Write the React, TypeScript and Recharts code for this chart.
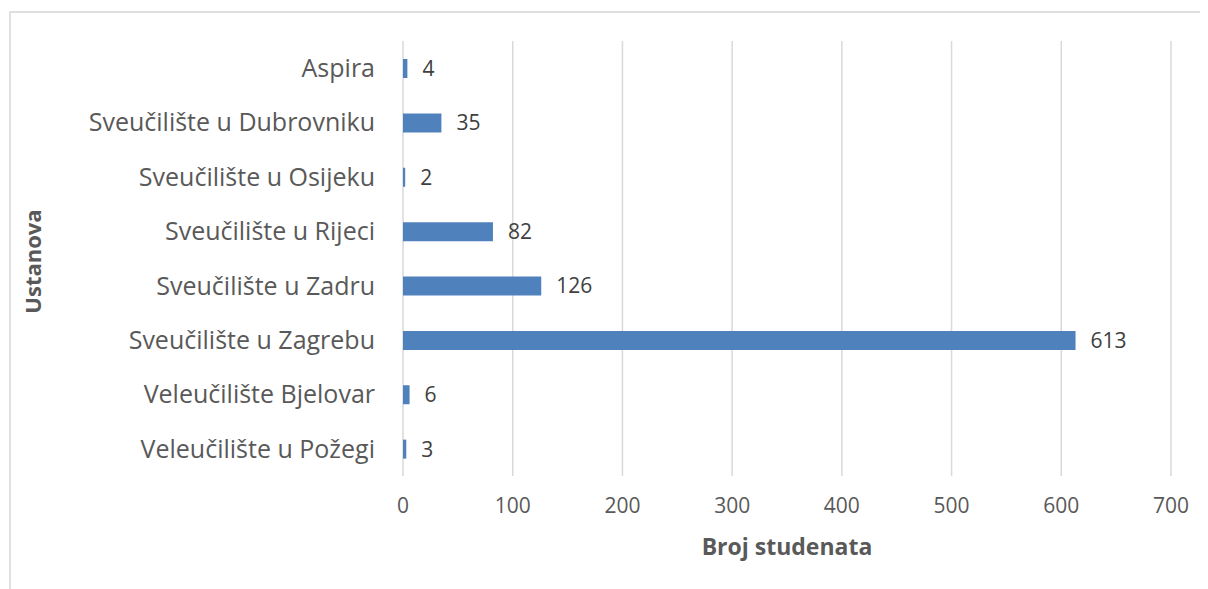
import React from 'react';
import { BarChart, Bar, XAxis, YAxis, CartesianGrid, LabelList, Label } from 'recharts';

// institutions, top to bottom as in the chart
const ustanove = [
  'Aspira',
  'Sveučilište u Dubrovniku',
  'Sveučilište u Osijeku',
  'Sveučilište u Rijeci',
  'Sveučilište u Zadru',
  'Sveučilište u Zagrebu',
  'Veleučilište Bjelovar',
  'Veleučilište u Požegi',
];
const brojStudenata = [4, 35, 2, 82, 126, 613, 6, 3];
const xTicks = [0, 100, 200, 300, 400, 500, 600, 700];

const data = ustanove.map((name, i) => ({ name, value: brojStudenata[i] }));

const FONT = '"Open Sans", sans-serif';
const TEXT = '#595959';

export default function App() {
  return (
    <div style={{ position: 'relative', width: 1200, height: 581, fontFamily: FONT }}>
      <div
        style={{
          position: 'absolute',
          left: 1,
          top: 3,
          right: 0,
          bottom: 0,
          borderTop: '2px solid #e0e0e0',
          borderLeft: '2px solid #e0e0e0',
        }}
      />
      <div style={{ position: 'absolute', left: 0, top: 0 }}>
        <BarChart
          width={1200}
          height={581}
          data={data}
          layout="vertical"
          margin={{ top: 33, right: 37, bottom: 33, left: 0 }}
          barSize={19}
        >
          <CartesianGrid horizontal={false} stroke="#d9d9d9" strokeWidth={1.5} />
          <XAxis
            type="number"
            domain={[0, 700]}
            ticks={xTicks}
            axisLine={false}
            tickLine={false}
            height={80}
            tickMargin={16}
            tick={{ fill: TEXT, fontSize: 21, fontFamily: FONT }}
          >
            <Label
              content={({ viewBox }: any) => (
                <text
                  x={viewBox.x + viewBox.width / 2}
                  y={viewBox.y + 79}
                  textAnchor="middle"
                  fill={TEXT}
                  fontSize={23}
                  fontWeight="bold"
                  fontFamily={FONT}
                >
                  Broj studenata
                </text>
              )}
            />
          </XAxis>
          <YAxis
            type="category"
            dataKey="name"
            width={395}
            axisLine={false}
            tickLine={false}
            tickMargin={22}
            interval={0}
            tick={{ fill: TEXT, fontSize: 25, fontFamily: FONT }}
          >
            <Label
              content={({ viewBox }: any) => (
                <text
                  x={viewBox.x + 33}
                  y={viewBox.y + viewBox.height / 2 + 3}
                  textAnchor="middle"
                  fill={TEXT}
                  fontSize={22}
                  fontWeight="bold"
                  fontFamily={FONT}
                  transform={`rotate(-90 ${viewBox.x + 33} ${viewBox.y + viewBox.height / 2 + 3})`}
                >
                  Ustanova
                </text>
              )}
            />
          </YAxis>
          <Bar dataKey="value" fill="#4f81bd" isAnimationActive={false}>
            <LabelList dataKey="value" position="right" offset={15} fill="#404040" fontSize={21} fontFamily={FONT} />
          </Bar>
        </BarChart>
      </div>
    </div>
  );
}
